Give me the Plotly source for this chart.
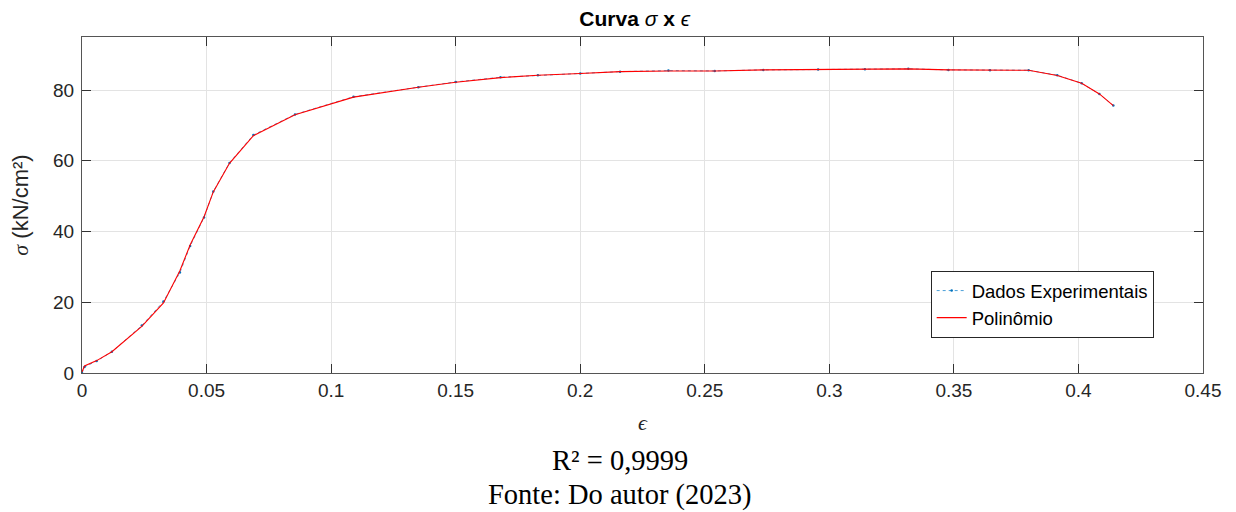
import plotly.graph_objects as go

# Experimental data (strain, stress)
eps_exp = [0.0, 0.001, 0.0059, 0.012, 0.024, 0.0327, 0.0393, 0.0434, 0.049, 0.0527,
           0.0592, 0.0688, 0.0855, 0.109, 0.135, 0.150, 0.168, 0.183, 0.200, 0.216,
           0.2354, 0.254, 0.2735, 0.2955, 0.3143, 0.3317, 0.3478, 0.3645, 0.380,
           0.3915, 0.4013, 0.4084, 0.414]
sig_exp = [0.0, 1.7, 3.4, 6.0, 13.4, 20.2, 28.4, 35.9, 44.0, 51.3,
           59.4, 67.3, 73.1, 78.1, 80.8, 82.3, 83.6, 84.2, 84.7, 85.2,
           85.5, 85.4, 85.7, 85.8, 85.9, 86.0, 85.7, 85.6, 85.6,
           84.2, 81.9, 78.9, 75.6]

# Polynomial fit evaluated at the same strains
eps_poly = eps_exp
sig_poly = [0.3, 2.0, 3.5, 6.0, 13.2, 19.8, 28.9, 36.2, 44.2, 51.2,
            59.3, 67.1, 73.0, 78.0, 80.8, 82.2, 83.5, 84.2, 84.7, 85.2,
            85.4, 85.4, 85.7, 85.8, 85.9, 86.0, 85.7, 85.6, 85.6,
            84.1, 81.9, 78.9, 75.6]

x_ticks = [0, 0.05, 0.1, 0.15, 0.2, 0.25, 0.3, 0.35, 0.4, 0.45]
x_tick_labels = ["0", "0.05", "0.1", "0.15", "0.2", "0.25", "0.3", "0.35", "0.4", "0.45"]
y_ticks = [0, 20, 40, 60, 80]

fig = go.Figure()
fig.add_trace(go.Scatter(
    x=eps_exp, y=sig_exp, name="Dados Experimentais", mode="lines+markers",
    line=dict(color="#4a9fd8", width=1, dash="dot"),
    marker=dict(size=2.5, color="#0072BD"),
))
fig.add_trace(go.Scatter(
    x=eps_poly, y=sig_poly, name="Polinômio", mode="lines",
    line=dict(color="#FF0000", width=1.1),
))

axis_common = dict(
    showline=True, linecolor="#555555", linewidth=1.2, mirror="allticks",
    ticks="inside", ticklen=9, tickcolor="#333333",
    showgrid=True, gridcolor="#e3e3e3", gridwidth=1, zeroline=False,
    tickfont=dict(family="Liberation Sans, Arial", size=19, color="#262626"),
)

fig.update_xaxes(range=[0, 0.45], tickvals=x_ticks, ticktext=x_tick_labels,
                 title=dict(text="<i>ϵ</i>", font=dict(family="Liberation Serif, Times New Roman", size=22, color="#262626"), standoff=14),
                 **axis_common)
fig.update_yaxes(range=[0, 95], tickvals=y_ticks, ticklabelstandoff=3,
                 title=dict(text="<i><span style='font-family:Liberation Serif'>σ</span></i> (kN/cm²)",
                            font=dict(family="Liberation Sans, Arial", size=22, color="#262626"), standoff=19),
                 **axis_common)

# page has an 8px body margin: figure sized and offset to match the reference
fig.update_layout(
    width=1228, height=504,
    margin=dict(l=74, r=33, t=29, b=139),
    plot_bgcolor="white", paper_bgcolor="white",
    title=dict(text="<b>Curva</b> <i>σ</i> <b>x</b> <i>ϵ</i>", x=0.5103, xanchor="center",
               y=1 - 11 / 504, yanchor="middle",
               font=dict(family="Liberation Sans, Arial", size=21, color="black")),
    legend=dict(x=0.956, xanchor="right", y=0.104, yanchor="bottom",
                bgcolor="white", bordercolor="#262626", borderwidth=1,
                font=dict(family="Liberation Sans, Arial", size=18.5, color="black"),
                tracegroupgap=0, itemwidth=30),
    showlegend=True,
)

fig.add_annotation(text="R² = 0,9999", xref="paper", yref="paper", x=0.48, y=-(452 - 365) / 336,
                   xanchor="center", yanchor="middle", showarrow=False,
                   font=dict(family="Liberation Serif, Times New Roman", size=28.5, color="black"))
fig.add_annotation(text="Fonte: Do autor (2023)", xref="paper", yref="paper", x=0.48, y=-(487 - 365) / 336,
                   xanchor="center", yanchor="middle", showarrow=False,
                   font=dict(family="Liberation Serif, Times New Roman", size=28.5, color="black"))

fig.write_html("out.html")
